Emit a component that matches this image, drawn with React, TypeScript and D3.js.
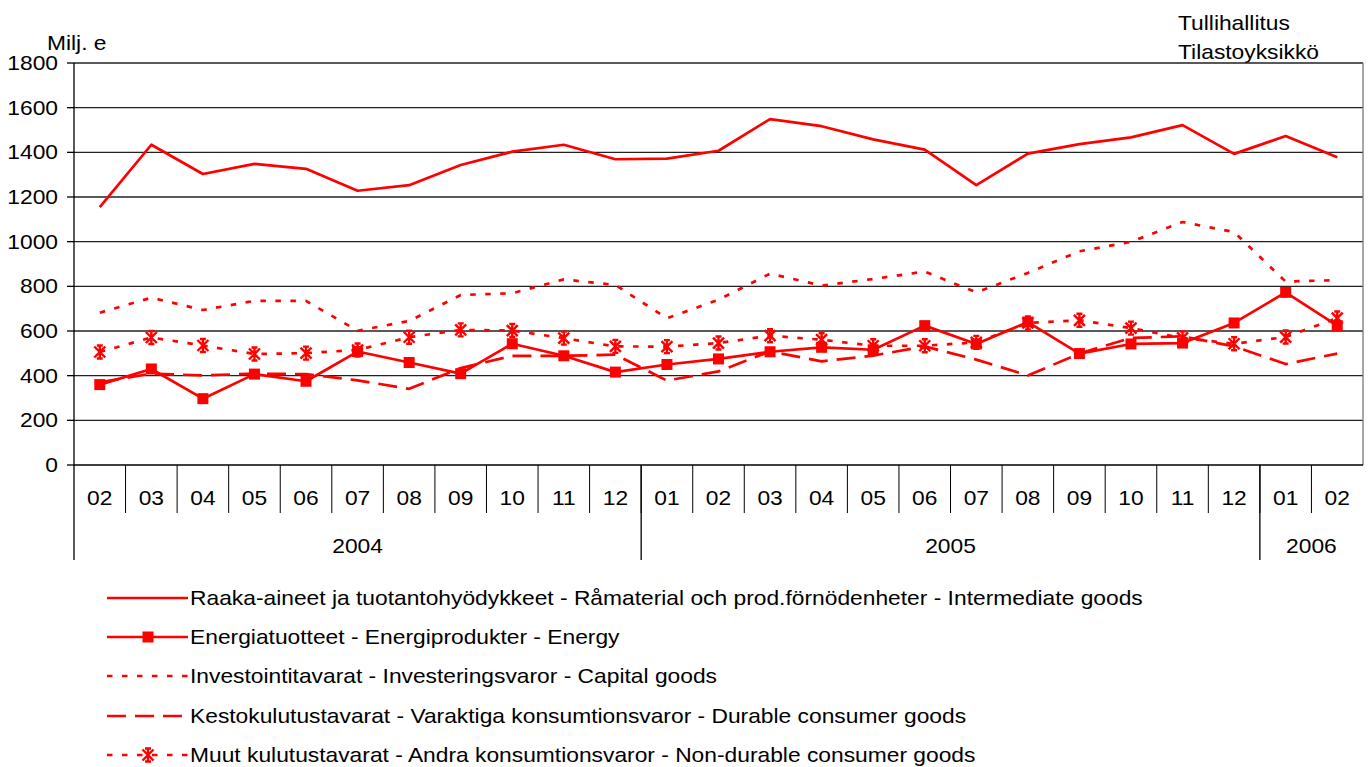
import React from "react";
import * as d3 from "d3";

// months shown on the category axis, Feb 2004 .. Feb 2006
const months = ["02", "03", "04", "05", "06", "07", "08", "09", "10", "11", "12",
  "01", "02", "03", "04", "05", "06", "07", "08", "09", "10", "11", "12",
  "01", "02"];
const years = [
  { label: "2004", from: 0, to: 11 },
  { label: "2005", from: 11, to: 23 },
  { label: "2006", from: 23, to: 25 },
];
const yTicks = [0, 200, 400, 600, 800, 1000, 1200, 1400, 1600, 1800];

const intermediate = [1155, 1434, 1303, 1348, 1326, 1228, 1253, 1343, 1403, 1434, 1369,
  1372, 1407, 1549, 1517, 1458, 1412, 1253, 1394, 1437, 1467, 1522, 1393, 1473, 1378];
const energy = [360, 430, 297, 407, 375, 508, 459, 409, 543, 489, 416,
  450, 475, 507, 527, 516, 624, 542, 640, 499, 542, 546, 636, 773, 624];
const capital = [682, 749, 694, 735, 735, 601, 645, 761, 769, 831, 806,
  657, 740, 857, 803, 833, 866, 773, 860, 957, 999, 1088, 1043, 821, 828];
const durable = [370, 409, 401, 409, 407, 379, 341, 434, 489, 489, 494,
  378, 419, 509, 464, 490, 531, 472, 401, 499, 569, 576, 531, 452, 499];
const nondurable = [506, 571, 535, 497, 501, 515, 572, 605, 602, 568, 531,
  530, 546, 579, 561, 534, 534, 549, 636, 648, 613, 569, 543, 573, 658];

const seriesNames = [
  "Raaka-aineet ja tuotantohyödykkeet - Råmaterial och prod.förnödenheter - Intermediate goods",
  "Energiatuotteet - Energiprodukter - Energy",
  "Investointitavarat - Investeringsvaror - Capital goods",
  "Kestokulutustavarat - Varaktiga konsumtionsvaror - Durable consumer goods",
  "Muut kulutustavarat - Andra konsumtionsvaror - Non-durable consumer goods",
];

const RED = "#ff0000";
const FONT = "'Liberation Sans', Arial, sans-serif";

const series = [
  { name: seriesNames[0], values: intermediate, dash: "", marker: "" },
  { name: seriesNames[1], values: energy, dash: "", marker: "square" },
  { name: seriesNames[2], values: capital, dash: "5.5,9.5", marker: "" },
  { name: seriesNames[3], values: durable, dash: "19,9", marker: "" },
  { name: seriesNames[4], values: nondurable, dash: "5.5,9.5", marker: "star" },
];

// the original's text is a bit wider than Arial, so stretch it sideways
function T({ x, y, anchor, children }: { x: number; y: number; anchor?: string; children: React.ReactNode }) {
  return (
    <text transform={`translate(${x},${y}) scale(1.14,1)`} fontSize={20}
      textAnchor={anchor || "start"} fill="#000">{children}</text>
  );
}

function Marker({ kind, x, y }: { kind: string; x: number; y: number }) {
  if (kind === "square") {
    return <rect x={x - 5.5} y={y - 5.5} width={11} height={11} fill={RED} />;
  }
  if (kind === "star") {
    return (
      <path
        d={`M${x},${y - 6.5}L${x},${y + 6.5}M${x - 5.5},${y - 5.5}L${x + 5.5},${y + 5.5}M${x - 5.5},${y + 5.5}L${x + 5.5},${y - 5.5}M${x - 3},${y - 6.5}L${x + 3},${y - 6.5}M${x - 3},${y + 6.5}L${x + 3},${y + 6.5}`}
        stroke={RED}
        strokeWidth={2.4}
        fill="none"
      />
    );
  }
  return null;
}

export default function App() {
  const width = 1369, height = 767;
  const left = 74, right = 1363, top = 63, bottom = 465;

  const x = d3.scaleBand<number>()
    .domain(d3.range(months.length))
    .range([left, right])
    .padding(0);
  const y = d3.scaleLinear().domain([0, 1800]).range([bottom, top]);
  const cx = (i: number) => (x(i) as number) + x.bandwidth() / 2;

  const line = d3.line<number>()
    .x((_, i) => cx(i))
    .y(d => y(d));

  const legendY = [598, 637, 676, 716, 755];

  return (
    <div style={{ position: "absolute", left: 0, top: 0 }}>
      <svg width={width} height={height} style={{ display: "block", background: "#fff" }}
        fontFamily={FONT}>
        {/* source */}
        <T x={1178} y={30}>Tullihallitus</T>
        <T x={1178} y={59}>Tilastoyksikkö</T>
        <T x={47} y={50}>Milj. e</T>

        {/* grid */}
        {yTicks.map(t => (
          <g key={t}>
            {t > 0 && <line x1={left} x2={right} y1={y(t)} y2={y(t)} stroke="#222" strokeWidth={1.3} />}
            <line x1={left - 7} x2={left} y1={y(t)} y2={y(t)} stroke="#000" strokeWidth={1.3} />
            <T x={58} y={y(t) + 7} anchor="end">{t}</T>
          </g>
        ))}
        <line x1={right} x2={right} y1={top} y2={bottom} stroke="#777" strokeWidth={1.3} />
        <line x1={left} x2={left} y1={top} y2={560} stroke="#000" strokeWidth={1.3} />

        {/* category axis */}
        <line x1={left} x2={right} y1={bottom} y2={bottom} stroke="#000" strokeWidth={1.5} />
        {months.map((m, i) => (
          <g key={i}>
            {i > 0 && <line x1={x(i)} x2={x(i)} y1={bottom} y2={513} stroke="#000" strokeWidth={1} />}
            <T x={cx(i)} y={505} anchor="middle">{m}</T>
          </g>
        ))}
        {years.map(yr => {
          const x0 = x(yr.from) as number;
          const x1 = yr.to < months.length ? (x(yr.to) as number) : right;
          return (
            <g key={yr.label}>
              {yr.from > 0 && <line x1={x0} x2={x0} y1={bottom} y2={560} stroke="#000" strokeWidth={1.3} />}
              <T x={(x0 + x1) / 2} y={553} anchor="middle">{yr.label}</T>
            </g>
          );
        })}

        {/* series */}
        {series.map(s => (
          <g key={s.name}>
            <path d={line(s.values) || ""} fill="none" stroke={RED} strokeWidth={2.7}
              strokeDasharray={s.dash || undefined} strokeLinejoin="round" />
            {s.marker && s.values.map((v, i) => (
              <Marker key={i} kind={s.marker} x={cx(i)} y={y(v)} />
            ))}
          </g>
        ))}

        {/* legend */}
        {series.map((s, k) => (
          <g key={"lg" + k}>
            <line x1={107} x2={188} y1={legendY[k]} y2={legendY[k]} stroke={RED} strokeWidth={2.7}
              strokeDasharray={s.dash || undefined} />
            <Marker kind={s.marker} x={148} y={legendY[k]} />
            <T x={190} y={legendY[k] + 7}>{s.name}</T>
          </g>
        ))}
      </svg>
    </div>
  );
}
